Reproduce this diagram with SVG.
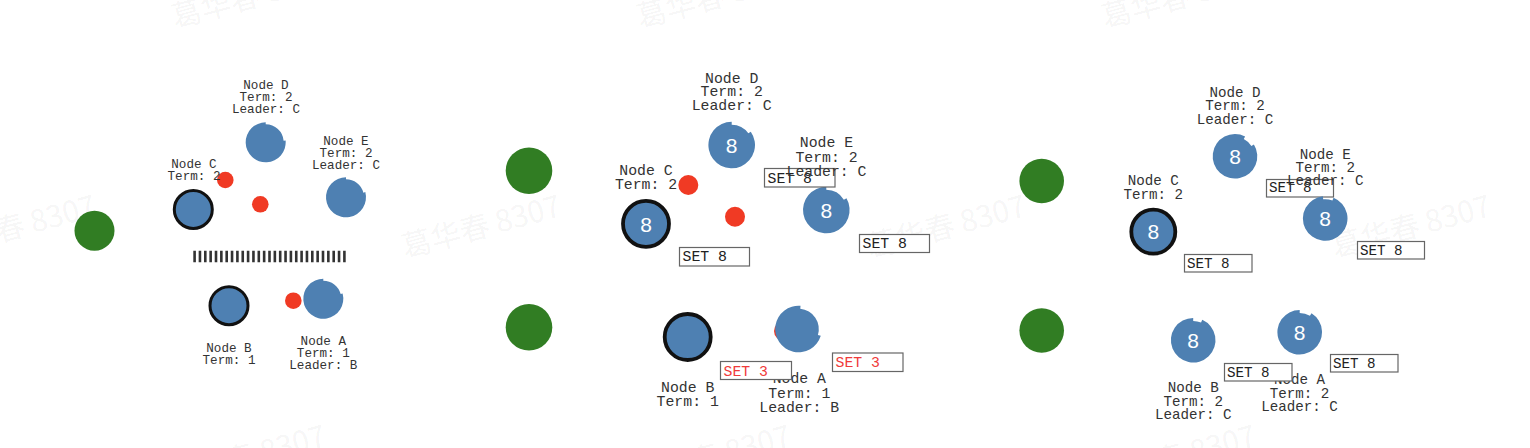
<svg xmlns="http://www.w3.org/2000/svg" width="1530" height="448" viewBox="0 0 1530 448">
<style>
.n{fill:#4e80b2}
.ldr{fill:#4e80b2;stroke:#111;stroke-width:3}
.ldr2{fill:#4e80b2;stroke:#111;stroke-width:3.8}
.g{fill:#317d23}
.r{fill:#f03a24}
.lbl{font-family:"Liberation Mono","Courier New",monospace;fill:#333;text-anchor:middle}
.s1{font-size:12.6px}
.s2{font-size:14.8px}
.s3{font-size:14.2px}
.num{font-family:"Liberation Sans",Arial,sans-serif;fill:#fff;font-size:21px;text-anchor:middle}
.box{fill:#fff;stroke:#666;stroke-width:1.2}
.bt{font-family:"Liberation Mono","Courier New",monospace;fill:#222}
.red{fill:#f03a3a}
.wm{font-family:"Noto Sans CJK SC",sans-serif;font-size:30px;fill:#000;fill-opacity:0.055}
</style>
<defs>
<path id="n1a" d="M19.92,-1.74 A20,20 0 1,1 0,-20 L0,-18 A18,18 0 0,1 17.93,-1.57 Z"/>
<path id="n1b" d="M19.32,-5.18 A20,20 0 1,1 0,-20 L0,-18 A18,18 0 0,1 17.39,-4.66 Z"/>
</defs>
<rect width="1530" height="448" fill="#fff"/>

<!-- watermark -->
<g id="watermark">
<text class="wm" x="175" y="28" transform="rotate(-15 175 28)">葛华春 8307</text>
<text class="wm" x="640" y="28" transform="rotate(-15 640 28)">葛华春 8307</text>
<text class="wm" x="1105" y="28" transform="rotate(-15 1105 28)">葛华春 8307</text>
<text class="wm" x="-60" y="258" transform="rotate(-15 -60 258)">葛华春 8307</text>
<text class="wm" x="405" y="258" transform="rotate(-15 405 258)">葛华春 8307</text>
<text class="wm" x="870" y="258" transform="rotate(-15 870 258)">葛华春 8307</text>
<text class="wm" x="1335" y="258" transform="rotate(-15 1335 258)">葛华春 8307</text>
<text class="wm" x="170" y="488" transform="rotate(-15 170 488)">葛华春 8307</text>
<text class="wm" x="635" y="488" transform="rotate(-15 635 488)">葛华春 8307</text>
<text class="wm" x="1100" y="488" transform="rotate(-15 1100 488)">葛华春 8307</text>
</g>

<!-- ===== Panel 1 ===== -->
<g id="p1-client"><circle class="g" cx="94.5" cy="230.7" r="20"/></g>
<g id="connectors">
<line id="p1-partition" x1="193.3" y1="256.5" x2="346" y2="256.5" stroke="#333" stroke-width="11.6" stroke-dasharray="2.6 2.75"/>
<circle class="r" cx="225.3" cy="180" r="8.3"/>
<circle class="r" cx="260.3" cy="204.3" r="8.3"/>
<circle class="r" cx="293.3" cy="300.7" r="8.3"/>
</g>
<g id="p1-nodeC">
<circle class="ldr" cx="193.3" cy="209.5" r="19"/>
<text class="lbl s1" x="194" y="168.3">Node C</text>
<text class="lbl s1" x="194" y="180.3">Term: 2</text>
</g>
<g id="p1-nodeD">
<use href="#n1a" class="n" transform="translate(265.7 142.3)"/>
<text class="lbl s1" x="266" y="89.3">Node D</text>
<text class="lbl s1" x="266" y="101.3">Term: 2</text>
<text class="lbl s1" x="266" y="113.3">Leader: C</text>
</g>
<g id="p1-nodeE">
<use href="#n1b" class="n" transform="translate(346 197.3)"/>
<text class="lbl s1" x="346" y="145">Node E</text>
<text class="lbl s1" x="346" y="157">Term: 2</text>
<text class="lbl s1" x="346" y="169">Leader: C</text>
</g>
<g id="p1-nodeB">
<circle class="ldr" cx="229" cy="305.7" r="19"/>
<text class="lbl s1" x="229" y="352">Node B</text>
<text class="lbl s1" x="229" y="364">Term: 1</text>
</g>
<g id="p1-nodeA">
<use href="#n1b" class="n" transform="translate(323.3 298.7)"/>
<text class="lbl s1" x="323.3" y="345">Node A</text>
<text class="lbl s1" x="323.3" y="357">Term: 1</text>
<text class="lbl s1" x="323.3" y="369">Leader: B</text>
</g>

<!-- ===== Panel 2 ===== -->
<g id="p2-client1"><circle class="g" cx="529" cy="170.7" r="23.3"/></g>
<g id="p2-client2"><circle class="g" cx="529" cy="327.3" r="23.3"/></g>
<g id="p2-messages">
<circle class="r" cx="688.3" cy="185" r="10"/>
<circle class="r" cx="735" cy="216.7" r="10"/>
<circle class="r" cx="784" cy="331" r="10"/>
</g>
<g id="p2-nodeC">
<circle class="ldr2" cx="646" cy="223.8" r="23"/>
<text class="num" x="646" y="231.5">8</text>
<text class="lbl s2" x="646" y="175">Node C</text>
<text class="lbl s2" x="646" y="189.3">Term: 2</text>
</g>
<g id="p2-nodeD">
<path class="n" transform="translate(731.7 145)" d="M19.09,-13.36 A23.3,23.3 0 1,1 0,-23.3 L0,-20.3 A20.3,20.3 0 0,1 16.63,-11.64 Z"/>
<text class="num" x="731.7" y="152.7">8</text>
<text class="lbl s2" x="731.7" y="82.5">Node D</text>
<text class="lbl s2" x="731.7" y="96.3">Term: 2</text>
<text class="lbl s2" x="731.7" y="110.3">Leader: C</text>
</g>
<g id="p2-nodeE">
<path class="n" transform="translate(826.3 210)" d="M20.18,-11.65 A23.3,23.3 0 1,1 0,-23.3 L0,-20.3 A20.3,20.3 0 0,1 17.58,-10.15 Z"/>
<text class="num" x="826.3" y="217.7">8</text>
<rect class="box" x="764.5" y="168.5" width="70.5" height="18.5"/>
<text class="bt s2" x="767.5" y="182.7">SET 8</text>
<text class="lbl s2" x="826.5" y="147.3">Node E</text>
<text class="lbl s2" x="826.5" y="161.5">Term: 2</text>
<text class="lbl s2" x="826.5" y="175.7">Leader: C</text>
</g>
<g id="p2-setE">
<rect class="box" x="859.5" y="234.5" width="70" height="18"/>
<text class="bt s2" x="862.5" y="248.3">SET 8</text>
</g>
<g id="p2-setD">
<rect class="box" x="679.5" y="247.5" width="70" height="18.5"/>
<text class="bt s2" x="682.5" y="261.3">SET 8</text>
</g>
<g id="p2-nodeB">
<circle class="ldr2" cx="687.7" cy="337" r="23"/>
<text class="lbl s2" x="687.7" y="392.3">Node B</text>
<text class="lbl s2" x="687.7" y="406.3">Term: 1</text>
</g>
<g id="p2-nodeA">
<path class="n" transform="translate(798.5 329)" d="M22.28,6.81 A23.3,23.3 0 1,1 2.03,-23.21 L1.77,-20.22 A20.3,20.3 0 0,1 19.41,5.94 Z"/>
<text class="lbl s2" x="799.3" y="383.3">Node A</text>
<text class="lbl s2" x="799.3" y="397.5">Term: 1</text>
<text class="lbl s2" x="799.3" y="411.7">Leader: B</text>
</g>
<g id="p2-setB">
<rect class="box" x="720.5" y="361.5" width="71" height="18"/>
<text class="bt s2 red" x="723.5" y="376">SET 3</text>
</g>
<g id="p2-setA">
<rect class="box" x="832.5" y="353" width="70.5" height="18.5"/>
<text class="bt s2 red" x="835.5" y="367.3">SET 3</text>
</g>

<!-- ===== Panel 3 ===== -->
<g id="p3-client1"><circle class="g" cx="1041.7" cy="181" r="22.3"/></g>
<g id="p3-client2"><circle class="g" cx="1041.7" cy="330.5" r="22.3"/></g>
<g id="p3-nodeC">
<circle class="ldr2" cx="1153.3" cy="231.7" r="22"/>
<text class="num" x="1153.3" y="239.2">8</text>
<text class="lbl s3" x="1153.3" y="185">Node C</text>
<text class="lbl s3" x="1153.3" y="199">Term: 2</text>
</g>
<g id="p3-nodeD">
<path class="n" transform="translate(1235 156.3)" d="M18.91,-11.82 A22.3,22.3 0 1,1 10.12,-19.87 L8.76,-17.2 A19.3,19.3 0 0,1 16.37,-10.23 Z"/>
<text class="num" x="1235" y="163.8">8</text>
<text class="lbl s3" x="1235" y="96.7">Node D</text>
<text class="lbl s3" x="1235" y="110.3">Term: 2</text>
<text class="lbl s3" x="1235" y="124">Leader: C</text>
</g>
<g id="p3-nodeE">
<rect class="box" x="1266.5" y="179.5" width="67" height="17.5"/>
<text class="bt s3" x="1269" y="192.3">SET 8</text>
<path class="n" transform="translate(1325.2 218.5)" d="M8.35,-20.68 A22.3,22.3 0 1,1 -2.33,-22.18 L-2.02,-19.19 A19.3,19.3 0 0,1 7.23,-17.89 Z"/>
<text class="num" x="1325.2" y="226">8</text>
<text class="lbl s3" x="1325.3" y="158.7">Node E</text>
<text class="lbl s3" x="1325.3" y="172">Term: 2</text>
<text class="lbl s3" x="1325.3" y="185.3">Leader: C</text>
</g>
<g id="p3-setE">
<rect class="box" x="1357.5" y="241.5" width="67" height="17.5"/>
<text class="bt s3" x="1360" y="255">SET 8</text>
</g>
<g id="p3-setD">
<rect class="box" x="1184.5" y="254.5" width="67.5" height="17.5"/>
<text class="bt s3" x="1187" y="267.7">SET 8</text>
</g>
<g id="p3-nodeB">
<path class="n" transform="translate(1193.2 340.2)" d="M9.07,-20.37 A22.3,22.3 0 1,1 0,-22.3 L0,-19.3 A19.3,19.3 0 0,1 7.85,-17.63 Z"/>
<text class="num" x="1193.2" y="347.7">8</text>
<text class="lbl s3" x="1193.3" y="392.3">Node B</text>
<text class="lbl s3" x="1193.3" y="405.7">Term: 2</text>
<text class="lbl s3" x="1193.3" y="419.3">Leader: C</text>
</g>
<g id="p3-nodeA">
<path class="n" transform="translate(1299.7 332.2)" d="M11.82,-18.91 A22.3,22.3 0 1,1 0,-22.3 L0,-19.3 A19.3,19.3 0 0,1 10.23,-16.37 Z"/>
<text class="num" x="1299.7" y="339.7">8</text>
<text class="lbl s3" x="1299.5" y="384.3">Node A</text>
<text class="lbl s3" x="1299.5" y="397.5">Term: 2</text>
<text class="lbl s3" x="1299.5" y="411">Leader: C</text>
</g>
<g id="p3-setB">
<rect class="box" x="1224.5" y="363.5" width="67.5" height="17.5"/>
<text class="bt s3" x="1227" y="376.7">SET 8</text>
</g>
<g id="p3-setA">
<rect class="box" x="1330.5" y="354.5" width="67.5" height="17.5"/>
<text class="bt s3" x="1333" y="368.3">SET 8</text>
</g>
</svg>
